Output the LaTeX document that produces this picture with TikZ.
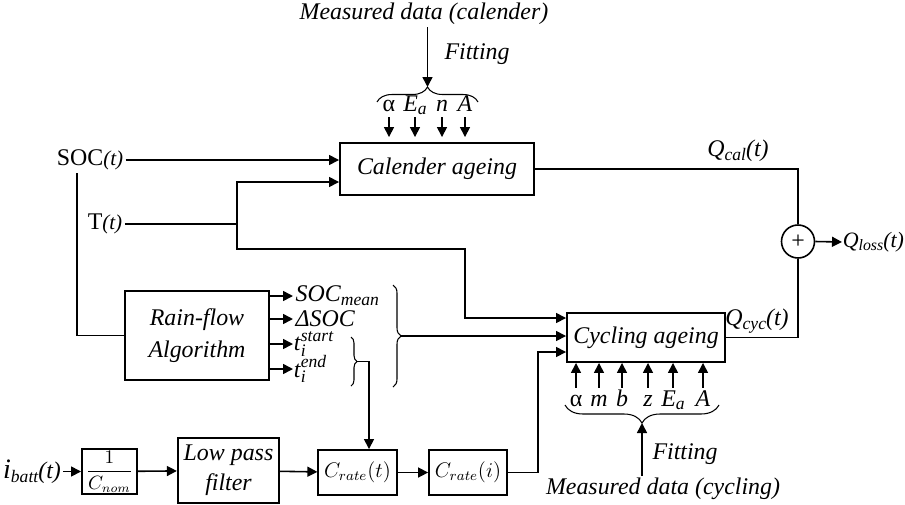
\documentclass[tikz,border=0pt]{standalone}
\usepackage{fontspec}
\setmainfont{Liberation Serif}
\usetikzlibrary{arrows.meta,calc,decorations.pathreplacing}

\newcommand{\sbs}[1]{\raisebox{-0.35ex}{\fontsize{10}{11}\selectfont\itshape #1}}
\newcommand{\tstack}[1]{\textit{t}\makebox[0pt][l]{\raisebox{-0.5ex}{\fontsize{10}{11}\selectfont\itshape i}}\raisebox{0.85ex}{\fontsize{10}{11}\selectfont\itshape #1}}

\begin{document}
\def\pxunit{0.02cm}
\begin{tikzpicture}[x=\pxunit, y=-\pxunit,
                    >={Triangle[length=0.2cm,width=0.2cm]}, line width=0.9pt,
                    font=\fontsize{13.6}{17}\selectfont,
                    block/.style={draw, line width=1.1pt, align=center,
                                  font=\fontsize{13.6}{17}\selectfont\itshape},
                    lbl/.style={inner sep=1pt},
                    itlbl/.style={inner sep=1pt, font=\fontsize{13.6}{17}\selectfont\itshape},
                    parlbl/.style={inner sep=1pt, text height=9pt, text depth=2pt},
                    brace/.style={decorate, decoration={brace, amplitude=#1}, line width=0.6pt}
                   ]

        \useasboundingbox (0,0) rectangle (905,504);

        \node[itlbl] (meascal) at (424,14) {Measured data (calender)};
        \node[block, minimum width=194*\pxunit, minimum height=52*\pxunit] (cal) at (437,169) {Calender ageing};
        \coordinate (calbtip) at (427.5,87);
        \draw[brace=0.3cm] (377,102) -- (478,102);
        \draw[->] (meascal.south -| calbtip) -- (calbtip);
        \node[itlbl, anchor=west] (fitcal) at (442,54) {Fitting};

        \foreach \p/\xx [count=\k] in {α/389, \textit{E}\sbs{a}/415, \textit{n}/442, \textit{A}/465}{
            \node[parlbl] (cpar\k) at (\xx,105) {\p};
            \draw[->, shorten >=0.1cm] (cpar\k.south) -- (cpar\k.south |- cal.north);
        }

        \node[lbl] (soc) at (90,160) {SOC{\fontsize{12}{14}\selectfont\textit{(t)}}};
        \node[lbl] (temp) at (105,224) {T{\fontsize{12}{14}\selectfont\textit{(t)}}};
        \coordinate (socdn) at (77,173);
        \coordinate (tsplit) at (237,224);
        \coordinate (tbend) at (465,249);

        \node[block, minimum width=158*\pxunit, minimum height=49*\pxunit] (cyc) at (646,337.5) {Cycling ageing};
        \node[block, font=\fontsize{13.6}{18}\selectfont\itshape, minimum width=144*\pxunit,
              minimum height=89*\pxunit] (rain) at (197,335.5) {Rain-flow\\Algorithm};

        \draw[->] (soc.east) -- (soc.east -| cal.west);
        \draw (temp.east) -- (tsplit);
        \draw[->] (tsplit) |- ($(cal.west)+(0,13)$);
        \draw[->] (tsplit) |- (tbend) |- ($(cyc.west)+(0,-19.5)$);
        \draw (socdn) |- (rain.west);

        \node[lbl, anchor=west] (socm) at (293,296) {\textit{SOC}\sbs{mean}};
        \node[lbl, anchor=west] (dsoc) at (293,319) {\textit{ΔSOC}};
        \node[lbl, anchor=west, inner sep=0pt] (tst) at (293,344) {\tstack{start}};
        \node[lbl, anchor=west, inner sep=0pt] (ten) at (293,369) {\tstack{end}};
        \foreach \o in {socm,dsoc,tst,ten}
            \draw[->] (rain.east |- \o.west) -- (\o.west);

        \coordinate (tbtip) at (357,361.5);
        \draw[brace=0.12cm] (351,337) -- (351,386);
        \coordinate (bbtip) at (401,336);
        \draw[brace=0.16cm] (393,285) -- (393,387);
        \draw[->] (bbtip) -- (bbtip -| cyc.west);

        \node[lbl] (ibatt) at (32,472) {{\fontsize{16}{18}\selectfont\textit{i}}\sbs{batt}\textit{(t)}};
        \node[block, font=\fontsize{10.5}{12}\selectfont, minimum width=55*\pxunit,
              minimum height=45*\pxunit, inner sep=1pt] (inv) at (109.5,471.5) {$\displaystyle\frac{1}{C_{nom}}$};
        \node[block, minimum width=101*\pxunit, minimum height=65*\pxunit] (lpf) at (228.5,470.5) {Low pass\\filter};
        \node[block, font=\fontsize{12}{14}\selectfont, minimum width=69*\pxunit,
              minimum height=45*\pxunit] (crt) at (357.5,472.5) {$C_{rate}(t)$};
        \node[block, font=\fontsize{12}{14}\selectfont, minimum width=70*\pxunit,
              minimum height=45*\pxunit] (cri) at (468,472.5) {$C_{rate}(i)$};
        \draw[->] (ibatt.east |- inv.west) -- (inv.west);
        \draw[->] (inv) -- (lpf);
        \draw[->] (lpf) -- (crt);
        \draw[->] (crt) -- (cri);
        \draw[->] (cri.east) -- ++(30,0) |- ($(cyc.west)+(0,14.5)$);
        \draw[->] (tbtip) -| ($(crt.north)+(11.5,0)$);

        \node[draw, circle, minimum size=33*\pxunit, inner sep=0pt] (sum) at (798,241.5) {+};
        \draw (cal.east) -| (sum.north);
        \draw (cyc.east) -| (sum.south);
        \node[lbl, anchor=west, inner sep=0pt, font=\fontsize{12.5}{14}\selectfont] (qloss) at (842,242)
            {\textit{Q}\raisebox{-0.35ex}{\fontsize{9}{10}\selectfont\itshape loss}\textit{(t)}};
        \draw[->] (sum.east) -- (qloss.west);
        \node[lbl] (qcal) at (738,151) {\textit{Q}\sbs{cal}\textit{(t)}};
        \node[lbl] (qcyc) at (757,321) {\textit{Q}\sbs{cyc}\textit{(t)}};

        \foreach \p/\xx [count=\k] in {α/576, \textit{m}/599, \textit{b}/622, \textit{z}/648, \textit{E}\sbs{a}/673, \textit{A}/703}{
            \node[parlbl] (ypar\k) at (\xx,400) {\p};
            \draw[->] (ypar\k.north) -- (ypar\k.north |- cyc.south);
        }
        \draw[brace=0.36cm] (719,405) -- (565,405);
        \coordinate (cycbtip) at (642,423);
        \node[itlbl] (meascyc) at (663,489) {Measured data (cycling)};
        \draw[->] (meascyc.north -| cycbtip) -- (cycbtip);
        \node[itlbl, anchor=west] (fitcyc) at (650,454) {Fitting};
    \end{tikzpicture}
\end{document}
